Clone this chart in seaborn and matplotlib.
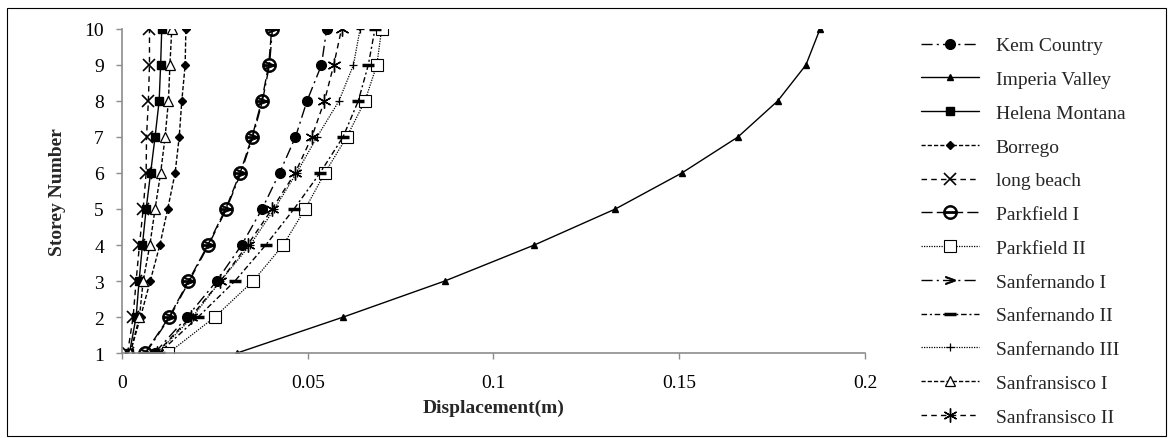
import matplotlib
matplotlib.use("Agg")
import matplotlib.pyplot as plt
import seaborn as sns
from matplotlib.patches import Rectangle

storeys = [1, 2, 3, 4, 5, 6, 7, 8, 9, 10]

kem_country = [0.0088, 0.0175, 0.0255, 0.0322, 0.0377, 0.0424, 0.0467, 0.0498, 0.0537, 0.0551]
imperia_valley = [0.0310, 0.0596, 0.0869, 0.1110, 0.1328, 0.1507, 0.1658, 0.1765, 0.1841, 0.1879]
helena_montana = [0.0020, 0.0038, 0.0046, 0.0055, 0.0065, 0.0077, 0.0089, 0.0100, 0.0104, 0.0107]
borrego = [0.0022, 0.0050, 0.0076, 0.0102, 0.0123, 0.0143, 0.0154, 0.0161, 0.0170, 0.0172]
long_beach = [0.0015, 0.0030, 0.0038, 0.0047, 0.0057, 0.0065, 0.0066, 0.0071, 0.0074, 0.0074]
parkfield_1 = [0.0062, 0.0127, 0.0179, 0.0231, 0.0279, 0.0318, 0.0350, 0.0376, 0.0395, 0.0403]
parkfield_2 = [0.0125, 0.0250, 0.0353, 0.0434, 0.0493, 0.0546, 0.0605, 0.0654, 0.0686, 0.0699]
sanfernando_1 = [0.0064, 0.0129, 0.0181, 0.0233, 0.0281, 0.0320, 0.0352, 0.0378, 0.0397, 0.0405]
sanfernando_2 = [0.0100, 0.0205, 0.0304, 0.0387, 0.0463, 0.0533, 0.0595, 0.0636, 0.0663, 0.0681]
sanfernando_3 = [0.0095, 0.0190, 0.0265, 0.0345, 0.0410, 0.0470, 0.0525, 0.0584, 0.0623, 0.0641]
sanfransisco_1 = [0.0022, 0.0047, 0.0057, 0.0075, 0.0089, 0.0104, 0.0116, 0.0125, 0.0129, 0.0134]
sanfransisco_2 = [0.0093, 0.0185, 0.0265, 0.0338, 0.0404, 0.0466, 0.0511, 0.0545, 0.0570, 0.0591]

x_ticks = [0, 0.05, 0.1, 0.15, 0.2]
x_tick_labels = ["0", "0.05", "0.1", "0.15", "0.2"]
y_ticks = storeys

sns.set_style("ticks")
plt.rcParams["font.family"] = ["Liberation Serif", "DejaVu Serif"]

fig = plt.figure(figsize=(11.73, 4.39), dpi=100)
ax = fig.add_axes([0.104, 0.1936, 0.6334, 0.7381])

# (label, data, linestyle, marker, size, facecolor, edgewidth, linewidth)
series = [
    ("Kem Country", kem_country, (0, (8, 3, 1.5, 3)), "o", 7, "black", 1.0, 1.0),
    ("Imperia Valley", imperia_valley, "-", "^", 5, "black", 1.0, 1.0),
    ("Helena Montana", helena_montana, "-", "s", 6, "black", 1.0, 1.0),
    ("Borrego", borrego, (0, (3, 1.5)), "D", 4, "black", 1.0, 1.0),
    ("long beach", long_beach, (0, (4, 3)), "x", 9, "black", 1.2, 1.0),
    ("Parkfield I", parkfield_1, (0, (8, 3)), r"$\ominus$", 10, "black", 0.6, 1.0),
    ("Parkfield II", parkfield_2, (0, (1, 1)), "s", 8, "white", 0.8, 0.9),
    ("Sanfernando I", sanfernando_1, (0, (8, 3, 1.5, 3)), r"$>$", 7, "black", 0.6, 1.0),
    ("Sanfernando II", sanfernando_2, (0, (4, 2, 1.5, 2)), "_", 8, "black", 2.5, 1.0),
    ("Sanfernando III", sanfernando_3, (0, (1, 1)), "+", 6, "black", 0.9, 0.9),
    ("Sanfransisco I", sanfransisco_1, (0, (3, 1.5)), "^", 7, "white", 0.9, 1.0),
    ("Sanfransisco II", sanfransisco_2, (0, (4, 3)), (6, 2, 0), 10, "black", 1.0, 1.0),
]

for label, values, ls, mk, ms, mfc, mew, lw in series:
    sns.lineplot(x=values, y=storeys, ax=ax, orient="y", sort=False,
                 color="black", linestyle=ls, linewidth=lw, marker=mk,
                 markersize=ms, markerfacecolor=mfc, markeredgecolor="black",
                 markeredgewidth=mew, label=label)

ax.set_xlim(0, 0.2)
ax.set_ylim(1, 10)
ax.set_xticks(x_ticks)
ax.set_xticklabels(x_tick_labels)
ax.set_yticks(y_ticks)

for side in ["top", "right"]:
    ax.spines[side].set_visible(False)
for side in ["left", "bottom"]:
    ax.spines[side].set_color("#8c8c8c")
    ax.spines[side].set_linewidth(1.2)

ax.tick_params(axis="both", colors="#8c8c8c", labelcolor="black", labelsize=14,
               length=4, width=1.0)
ax.tick_params(axis="y", pad=9)
ax.tick_params(axis="x", pad=11)

ax.set_xlabel("Displacement(m)", fontsize=14, fontweight="bold")
ax.set_ylabel("Storey Number", fontsize=14, fontweight="bold")
ax.xaxis.set_label_coords(0.5, -0.14)
ax.yaxis.set_label_coords(-0.076, 0.5)

ax.legend(loc="upper left", bbox_to_anchor=(0.785, 0.914), bbox_transform=fig.transFigure,
          frameon=False, fontsize=14, handlelength=3.0, handletextpad=0.85,
          labelspacing=0.83, borderpad=0, borderaxespad=0)

fig.patches.append(Rectangle((0.006, 0.005), 0.988, 0.975, transform=fig.transFigure,
                             fill=False, edgecolor="black", linewidth=0.8))

fig.savefig("out.png", dpi=100)
